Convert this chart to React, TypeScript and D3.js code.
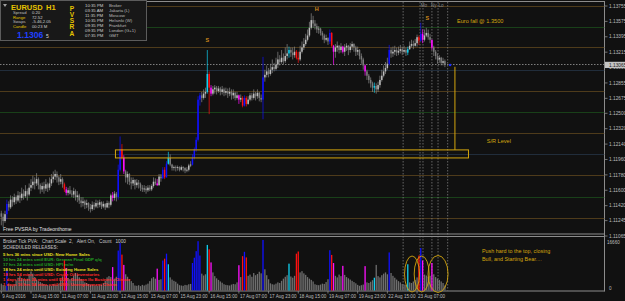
import React from "react";
import * as d3 from "d3";

// ---------- DATA ----------
const firstOpen = 1.1133;
const closes = [
  1.1129, 1.1124, 1.1132, 1.1144, 1.1140, 1.1149, 1.1146, 1.1152, 1.1148, 1.1154,
  1.1151, 1.1156, 1.1153, 1.1159, 1.1155, 1.1163, 1.1166, 1.1170, 1.1168, 1.1173,
  1.1166, 1.1161, 1.1165, 1.1162, 1.1167, 1.1163, 1.1168, 1.1173, 1.1176, 1.1179,
  1.1175, 1.1170, 1.1173, 1.1167, 1.1161, 1.1157, 1.1160, 1.1156, 1.1155, 1.1159,
  1.1152, 1.1154, 1.1148, 1.1145, 1.1147, 1.1143, 1.1145, 1.1140, 1.1138, 1.1143,
  1.1141, 1.1145, 1.1143, 1.1146, 1.1141, 1.1144, 1.1140, 1.1145, 1.1143, 1.1154,
  1.1151, 1.1156, 1.1152, 1.1184, 1.1208, 1.1198, 1.1182, 1.1175, 1.1179, 1.1170,
  1.1168, 1.1172, 1.1166, 1.1169, 1.1167, 1.1163, 1.1161, 1.1162, 1.1160, 1.1163,
  1.1161, 1.1165, 1.1170, 1.1168, 1.1166, 1.1176, 1.1174, 1.1184, 1.1175, 1.1191,
  1.1198, 1.1190, 1.1186, 1.1187, 1.1186, 1.1187, 1.1184, 1.1187, 1.1186, 1.1183,
  1.1184, 1.1189, 1.1190, 1.1198, 1.1208, 1.1219, 1.1266, 1.1271, 1.1268, 1.1273,
  1.1275, 1.1296, 1.1280, 1.1273, 1.1278, 1.1280, 1.1276, 1.1279, 1.1275, 1.1278,
  1.1274, 1.1276, 1.1273, 1.1275, 1.1271, 1.1274, 1.1268, 1.1271, 1.1266, 1.1268,
  1.1259, 1.1268, 1.1261, 1.1266, 1.1271, 1.1268, 1.1273, 1.1270, 1.1274, 1.1268,
  1.1266, 1.1292, 1.1295, 1.1299, 1.1296, 1.1301, 1.1304, 1.1302, 1.1307, 1.1313,
  1.1310, 1.1315, 1.1311, 1.1317, 1.1320, 1.1324, 1.1321, 1.1318, 1.1322, 1.1315,
  1.1313, 1.1322, 1.1327, 1.1331, 1.1336, 1.1341, 1.1350, 1.1359, 1.1355, 1.1352,
  1.1348, 1.1349, 1.1344, 1.1341, 1.1336, 1.1338, 1.1334, 1.1344, 1.1329, 1.1322,
  1.1327, 1.1329, 1.1324, 1.1328, 1.1322, 1.1327, 1.1329, 1.1324, 1.1328, 1.1331,
  1.1327, 1.1322, 1.1324, 1.1317, 1.1313, 1.1306, 1.1299, 1.1294, 1.1289, 1.1285,
  1.1280, 1.1282, 1.1278, 1.1283, 1.1289, 1.1294, 1.1299, 1.1303, 1.1308, 1.1324,
  1.1320, 1.1322, 1.1324, 1.1321, 1.1323, 1.1325, 1.1322, 1.1324, 1.1321, 1.1325,
  1.1329, 1.1331, 1.1329, 1.1332, 1.1339, 1.1335, 1.1343, 1.1336, 1.1341, 1.1344,
  1.1339, 1.1336, 1.1327, 1.1322, 1.1317, 1.1313, 1.1315, 1.1309, 1.1311, 1.13065,
];
const highs = [
  1.1136, 1.1133, 1.1136, 1.1149, 1.1147, 1.1154, 1.1153, 1.1156, 1.1154, 1.1159,
  1.1158, 1.1163, 1.1161, 1.1166, 1.1162, 1.1168, 1.1173, 1.1177, 1.1175, 1.1180,
  1.1175, 1.1168, 1.1169, 1.1170, 1.1173, 1.1169, 1.1175, 1.1179, 1.1182, 1.1184,
  1.1182, 1.1177, 1.1179, 1.1175, 1.1169, 1.1164, 1.1163, 1.1165, 1.1160, 1.1163,
  1.1161, 1.1159, 1.1156, 1.1152, 1.1152, 1.1149, 1.1149, 1.1146, 1.1144, 1.1147,
  1.1146, 1.1149, 1.1148, 1.1149, 1.1147, 1.1147, 1.1145, 1.1148, 1.1147, 1.1156,
  1.1158, 1.1159, 1.1158, 1.1190, 1.1223, 1.1214, 1.1201, 1.1184, 1.1182, 1.1180,
  1.1175, 1.1175, 1.1173, 1.1173, 1.1172, 1.1169, 1.1166, 1.1166, 1.1165, 1.1166,
  1.1166, 1.1167, 1.1175, 1.1174, 1.1173, 1.1179, 1.1179, 1.1187, 1.1187, 1.1194,
  1.1205, 1.1202, 1.1191, 1.1189, 1.1189, 1.1189, 1.1188, 1.1189, 1.1188, 1.1187,
  1.1187, 1.1191, 1.1194, 1.1202, 1.1210, 1.1222, 1.1270, 1.1274, 1.1275, 1.1278,
  1.1280, 1.1324, 1.1299, 1.1283, 1.1282, 1.1283, 1.1282, 1.1282, 1.1281, 1.1282,
  1.1280, 1.1280, 1.1279, 1.1280, 1.1278, 1.1278, 1.1275, 1.1275, 1.1272, 1.1272,
  1.1270, 1.1271, 1.1270, 1.1270, 1.1274, 1.1274, 1.1278, 1.1275, 1.1278, 1.1275,
  1.1272, 1.1316, 1.1301, 1.1306, 1.1303, 1.1308, 1.1313, 1.1309, 1.1315, 1.1322,
  1.1318, 1.1324, 1.1320, 1.1327, 1.1331, 1.1328, 1.1327, 1.1327, 1.1328, 1.1324,
  1.1322, 1.1329, 1.1334, 1.1338, 1.1343, 1.1348, 1.1357, 1.1367, 1.1364, 1.1359,
  1.1355, 1.1352, 1.1350, 1.1346, 1.1343, 1.1342, 1.1339, 1.1348, 1.1345, 1.1330,
  1.1331, 1.1334, 1.1330, 1.1332, 1.1329, 1.1331, 1.1332, 1.1330, 1.1332, 1.1334,
  1.1332, 1.1329, 1.1328, 1.1325, 1.1320, 1.1315, 1.1307, 1.1301, 1.1296, 1.1292,
  1.1287, 1.1286, 1.1285, 1.1287, 1.1294, 1.1301, 1.1306, 1.1310, 1.1315, 1.1330,
  1.1327, 1.1328, 1.1329, 1.1327, 1.1328, 1.1330, 1.1328, 1.1329, 1.1327, 1.1328,
  1.1334, 1.1336, 1.1335, 1.1337, 1.1342, 1.1341, 1.1356, 1.1348, 1.1348, 1.1350,
  1.1348, 1.1343, 1.1336, 1.1329, 1.1324, 1.1320, 1.1318, 1.1316, 1.1315, 1.1313,
];
const lows = [
  1.1119, 1.1117, 1.1122, 1.1126, 1.1136, 1.1138, 1.1141, 1.1143, 1.1144, 1.1146,
  1.1145, 1.1148, 1.1149, 1.1151, 1.1148, 1.1153, 1.1159, 1.1162, 1.1161, 1.1165,
  1.1161, 1.1156, 1.1158, 1.1156, 1.1159, 1.1158, 1.1160, 1.1165, 1.1169, 1.1172,
  1.1169, 1.1166, 1.1167, 1.1163, 1.1158, 1.1154, 1.1154, 1.1155, 1.1152, 1.1151,
  1.1148, 1.1146, 1.1144, 1.1140, 1.1141, 1.1138, 1.1139, 1.1136, 1.1134, 1.1136,
  1.1137, 1.1139, 1.1139, 1.1140, 1.1138, 1.1139, 1.1137, 1.1139, 1.1139, 1.1141,
  1.1147, 1.1148, 1.1147, 1.1149, 1.1182, 1.1196, 1.1179, 1.1169, 1.1167, 1.1166,
  1.1161, 1.1165, 1.1161, 1.1163, 1.1162, 1.1159, 1.1158, 1.1158, 1.1156, 1.1158,
  1.1159, 1.1159, 1.1163, 1.1166, 1.1165, 1.1165, 1.1170, 1.1173, 1.1173, 1.1175,
  1.1190, 1.1188, 1.1183, 1.1183, 1.1182, 1.1183, 1.1182, 1.1183, 1.1182, 1.1180,
  1.1181, 1.1182, 1.1187, 1.1189, 1.1196, 1.1205, 1.1217, 1.1259, 1.1263, 1.1266,
  1.1268, 1.1273, 1.1249, 1.1270, 1.1271, 1.1273, 1.1272, 1.1274, 1.1271, 1.1272,
  1.1270, 1.1271, 1.1268, 1.1270, 1.1266, 1.1267, 1.1265, 1.1266, 1.1261, 1.1263,
  1.1257, 1.1258, 1.1258, 1.1260, 1.1264, 1.1265, 1.1266, 1.1265, 1.1267, 1.1264,
  1.1263, 1.1243, 1.1287, 1.1292, 1.1292, 1.1294, 1.1297, 1.1299, 1.1300, 1.1303,
  1.1306, 1.1308, 1.1307, 1.1309, 1.1313, 1.1315, 1.1316, 1.1313, 1.1315, 1.1313,
  1.1309, 1.1311, 1.1320, 1.1324, 1.1329, 1.1334, 1.1339, 1.1348, 1.1350, 1.1348,
  1.1344, 1.1343, 1.1341, 1.1336, 1.1332, 1.1334, 1.1330, 1.1331, 1.1327, 1.1307,
  1.1315, 1.1322, 1.1320, 1.1321, 1.1320, 1.1317, 1.1323, 1.1318, 1.1321, 1.1324,
  1.1322, 1.1317, 1.1318, 1.1313, 1.1308, 1.1301, 1.1294, 1.1289, 1.1285, 1.1280,
  1.1275, 1.1274, 1.1273, 1.1275, 1.1280, 1.1287, 1.1292, 1.1296, 1.1301, 1.1306,
  1.1315, 1.1316, 1.1318, 1.1317, 1.1318, 1.1320, 1.1318, 1.1320, 1.1317, 1.1318,
  1.1324, 1.1327, 1.1325, 1.1328, 1.1328, 1.1330, 1.1334, 1.1332, 1.1334, 1.1339,
  1.1336, 1.1332, 1.1324, 1.1317, 1.1313, 1.1308, 1.1309, 1.1306, 1.1306, 1.1304,
];
const volumes = [
  2200,
  1800, 1500, 6500, 2100, 1700, 1600, 2000, 3200, 4100, 4600, 3900, 3700, 3400, 3800, 5200, 6100, 5400, 4300, 3500, 3000, 2700, 2300, 2000, 1800,
  1700, 1600, 1500, 2000, 1900, 1800, 2200, 3300, 4500, 9800, 7200, 4000, 3600, 3900, 4800, 5600, 5100, 4200, 3700, 3100, 2600, 2400, 2100, 1900,
  1800, 1600, 1700, 1500, 1900, 1800, 2400, 3100, 4200, 4600, 4300, 7500, 3800, 4400, 12800, 15200, 11500, 8200, 5200, 4400, 3600, 3000, 2400, 1600,
  1500, 1700, 1400, 1800, 1600, 1900, 2200, 3000, 3900, 4300, 3800, 7000, 3400, 3600, 9600, 10200, 11800, 8400, 4200, 3500, 3100, 2800, 2200, 1700,
  1600, 1500, 1800, 1700, 2000, 2100, 8800, 10500, 12600, 15800, 11200, 5400, 4800, 5200, 14600, 13200, 9000, 5800, 4600, 3900, 3400, 2900, 2500, 2000,
  1800, 1700, 1600, 1900, 2100, 2000, 2600, 8100, 4300, 11000, 12400, 10600, 4700, 5100, 4400, 5600, 4900, 5300, 6000, 5500, 16200, 6800, 4900, 3600,
  2300, 2000, 1900, 2200, 2600, 2400, 3100, 3800, 4400, 4900, 8600, 4500, 4100, 4700, 11800, 12500, 5800, 6200, 5500, 5000, 4300, 3800, 3400, 2900,
  2000, 1800, 1700, 1900, 2200, 2100, 2700, 3600, 12900, 11400, 8800, 4700, 4200, 5100, 4600, 7900, 5000, 4300, 3900, 3500, 3100, 2700, 2300, 1800,
  1500, 1700, 1900, 7800, 2600, 2400, 2800, 3300, 4100, 8200, 4600, 4200, 4900, 5400, 5800, 5200, 12200, 5600, 4700, 4100, 3500, 3000, 2600, 2100,
  1900, 1800, 8400, 2600, 2400, 2900, 3400, 4200, 11200, 13600, 9600, 5100, 4800, 4400, 4700, 8800, 5200, 4300, 3800, 3400, 2900, 2400, 1600,
];
const blueBars = [3, 63, 64, 87, 89, 103, 104, 105, 106, 107, 131, 141, 177, 209, 226];
const redBars = [34, 65, 88, 112, 130, 132, 159, 160, 178, 225];
const magentaBars = [35, 60, 66, 84, 113, 128, 179, 184, 196, 227, 232];
const cyanBars = [90, 111, 155, 201, 219];

const priceTicks = [1.13755, 1.13575, 1.13395, 1.13215, 1.13035, 1.12855, 1.12675, 1.125, 1.1232, 1.1214, 1.1196, 1.1178, 1.116, 1.1142, 1.11245, 1.11065];
const priceTickLabels = ["1.13755", "1.13575", "1.13395", "1.13215", "1.13035", "1.12855", "1.12675", "1.12500", "1.12320", "1.12140", "1.11960", "1.11780", "1.11600", "1.11420", "1.11245", "1.11065"];
const timeLabels = ["9 Aug 2016", "10 Aug 15:00", "11 Aug 07:00", "11 Aug 23:00", "12 Aug 15:00", "15 Aug 07:00", "15 Aug 23:00", "16 Aug 15:00", "17 Aug 07:00", "17 Aug 23:00", "18 Aug 15:00", "19 Aug 07:00", "19 Aug 23:00", "22 Aug 15:00", "23 Aug 07:00"];
const timeLabelBars = [0, 16, 32, 48, 64, 80, 96, 112, 128, 144, 160, 176, 192, 208, 224];

const levelPrices = [1.13755, 1.1351, 1.1327, 1.1301, 1.12765, 1.1251, 1.12264, 1.1202, 1.11775, 1.11518, 1.11274];
const levelKinds = ["o", "g", "o", "b", "o", "g", "o", "b", "o", "g", "o"];
const dottedPrice = 1.1308;
const sessionBars = [216.5, 225.6, 227.2, 232, 235.3, 240.5];
const sessionNames = ["Mo", "Ny", "Lo"];
const sessionNameBars = [226, 231.5, 235.5];

const lastPrice = 1.13065;
const volumeMax = 16660;
const srBox = { startBar: 61.5, endBar: 251.7, top: 1.12072, bottom: 1.11978 };
const arrowLine = { bar: 244.4, from: 1.13044, to: 1.12072 };
const swingLabels = [
  { t: "S", bar: 111, price: 1.1333 },
  { t: "H", bar: 170, price: 1.1370 },
  { t: "S", bar: 229.5, price: 1.1359 },
];

const brokerTimes = ["10:35 PM", "03:35 AM", "11:35 PM", "10:35 PM", "09:35 PM", "09:35 PM", "07:35 PM"];
const brokerCities = ["Broker", "Jakarta  (L)", "Moscow", "Helsinki  (W)", "Frankfurt", "London  (G+1)", "GMT"];
const infoLabels = ["Spread", "Range", "Swaps", "Candle"];
const infoValues = ["0.20", "72.52", "-5.46,2.05", "00:23 M"];
const releases = [
  "5 hrs 36 mins since USD: New Home Sales",
  "10 hrs 24 mins until EUR: German Final GDP q/q",
  "17 hrs 24 mins until USD: HPI m/m",
  "18 hrs 24 mins until USD: Existing Home Sales",
  "18 hrs 54 mins until USD: Crude Oil Inventories",
  "1 days 12 hrs 24 mins until EUR: German Ifo Business Climate",
  "1 days 16 hrs 54 mins until USD: Unemployment Claims",
];
const releaseKinds = ["y", "g", "g", "y", "r", "r", "r"];

// ---------- STYLE ----------
const FONT = "'Liberation Sans', Arial, sans-serif";
const BG = "#111111";
const PALETTE: Record<string, string> = { b: "#1010ff", r: "#ff1010", m: "#ff10ff", c: "#10d0f0" };
const LEVEL_COLORS: Record<string, string> = { o: "#4e3b1b", g: "#194019", b: "#212d3b" };
const REL_COLORS: Record<string, string> = { y: "#e8e020", g: "#23a023", r: "#ff2a2a" };
const GOLD = "#d4a60e";

function barKind(i: number): string {
  if (blueBars.includes(i)) return "b";
  if (redBars.includes(i)) return "r";
  if (magentaBars.includes(i)) return "m";
  if (cyanBars.includes(i)) return "c";
  return "n";
}

export default function App() {
  const N = closes.length;
  const x = d3.scaleLinear().domain([0, 239]).range([1.3, 444.9]);
  const y = d3.scaleLinear().domain([1.11065, 1.13755]).range([236, 6]);
  const yv = d3.scaleLinear().domain([0, volumeMax]).range([290.5, 238.5]);
  const axisX = 604.5;

  const candles = d3.range(N).map((i) => {
    const o = i === 0 ? firstOpen : closes[i - 1];
    const c = closes[i];
    const hi = Math.max(highs[i], o, c);
    const lo = Math.min(lows[i], o, c);
    const k = barKind(i);
    const col = k === "n" ? (c >= o ? "#bdbdbd" : "#7c7c7c") : PALETTE[k];
    const wick = k === "n" ? "#8a8a8a" : col;
    return { i, o, c, hi, lo, col, wick };
  });

  return (
    <div style={{ position: "absolute", left: 0, top: 0 }}>
      <svg width={625} height={301} style={{ display: "block", fontFamily: FONT }}>
        <defs>
          <clipPath id="mainClip">
            <rect x={0} y={2} width={axisX} height={231} />
          </clipPath>
          <clipPath id="volClip">
            <rect x={0} y={237} width={axisX} height={54} />
          </clipPath>
        </defs>
        <rect x={0} y={0} width={625} height={301} fill={BG} />

        {/* frame */}
        <line x1={0} x2={axisX} y1={1.5} y2={1.5} stroke="#8c8c8c" strokeWidth={1} />
        <line x1={0} x2={axisX} y1={234} y2={234} stroke="#8c8c8c" strokeWidth={1} />
        <line x1={0} x2={axisX} y1={236.5} y2={236.5} stroke="#8c8c8c" strokeWidth={1} />
        <line x1={0} x2={axisX} y1={291} y2={291} stroke="#8c8c8c" strokeWidth={1} />
        <line x1={axisX} x2={axisX} y1={1} y2={291.5} stroke="#8c8c8c" strokeWidth={1} />

        <g clipPath="url(#mainClip)">
          {levelPrices.map((p, k) => (
            <line key={"lv" + k} x1={0} x2={axisX} y1={Math.round(y(p)) + 0.5} y2={Math.round(y(p)) + 0.5}
              stroke={LEVEL_COLORS[levelKinds[k]]} strokeWidth={1} />
          ))}
          <line x1={0} x2={axisX} y1={Math.round(y(dottedPrice)) + 0.5} y2={Math.round(y(dottedPrice)) + 0.5}
            stroke="#9a9a9a" strokeWidth={0.8} strokeDasharray="1.5,1.5" />
        </g>

        {/* session lines */}
        {sessionBars.map((b, k) => (
          <line key={"ss" + k} x1={x(b)} x2={x(b)} y1={2} y2={290.5} stroke="#8a8a8a" strokeWidth={0.7} strokeDasharray="1.5,1.5" />
        ))}
        {sessionNames.map((s, k) => (
          <text key={"sn" + k} x={x(sessionNameBars[k])} y={7} fontSize={4.6} fill="#8a8a8a">{s}</text>
        ))}

        {/* candles */}
        <g clipPath="url(#mainClip)">
          {candles.map((d) => {
            const cx = x(d.i);
            const yTop = y(Math.max(d.o, d.c));
            const yBot = y(Math.min(d.o, d.c));
            return (
              <g key={"c" + d.i}>
                <line x1={cx} x2={cx} y1={y(d.hi)} y2={y(d.lo)} stroke={d.wick} strokeWidth={0.7} />
                <rect x={cx - 0.75} y={yTop} width={1.5} height={Math.max(0.8, yBot - yTop)} fill={d.col} />
              </g>
            );
          })}
        </g>

        {/* S/R box and line */}
        <rect x={x(srBox.startBar)} y={y(srBox.top)} width={x(srBox.endBar) - x(srBox.startBar)}
          height={y(srBox.bottom) - y(srBox.top)} fill="none" stroke={GOLD} strokeWidth={1} />
        <line x1={x(arrowLine.bar)} x2={x(arrowLine.bar)} y1={y(arrowLine.from)} y2={y(arrowLine.to)} stroke={GOLD} strokeWidth={1} />
        <circle cx={x(241.8)} cy={y(lastPrice)} r={1.2} fill="#1a2cff" />

        {swingLabels.map((s, k) => (
          <text key={"sw" + k} x={x(s.bar)} y={y(s.price)} fontSize={5.5} fontWeight="bold" fill="#d08a1c" textAnchor="middle">{s.t}</text>
        ))}
        <text x={x(245.5)} y={y(1.1356)} fontSize={5.6} fill={GOLD}>Euro fall @ 1.3500</text>
        <text x={x(261.5)} y={y(1.1215)} fontSize={5.6} fill={GOLD}>S/R Level</text>

        {/* price axis */}
        {priceTicks.map((p, k) => (
          <g key={"pt" + k}>
            <line x1={axisX} x2={axisX + 3} y1={y(p)} y2={y(p)} stroke="#8c8c8c" strokeWidth={0.8} />
            <text x={609} y={y(p) + 1.7} fontSize={4.8} fill="#bdbdbd">{priceTickLabels[k]}</text>
          </g>
        ))}
        <rect x={605} y={y(lastPrice) - 3.2} width={20} height={6.2} fill="#c4c4c4" />
        <text x={609} y={y(lastPrice) + 1.7} fontSize={4.8} fill="#1a1a1a">{lastPrice.toFixed(5)}</text>

        {/* info panel */}
        <rect x={0.5} y={0.5} width={146} height={40} fill="#181818" stroke="#5c5c5c" strokeWidth={1} />
        <polygon points="3,4 7,4 5,7" fill="#a0a0a0" />
        <text x={11} y={9.5} fontSize={7.5} fontWeight="bold" fill="#e6c300">EURUSD</text>
        <text x={46} y={9.5} fontSize={7.5} fontWeight="bold" fill="#e6c300">H1</text>
        {infoLabels.map((l, k) => (
          <g key={"il" + k}>
            <text x={13} y={14 + k * 4.6} fontSize={4.2} fill={k % 2 === 1 ? "#e6c300" : "#bdbdbd"}>{l}</text>
            <text x={32} y={14 + k * 4.6} fontSize={4.2} fill="#cfcfcf">{infoValues[k]}</text>
          </g>
        ))}
        <text x={17} y={37.5} fontSize={8.6} fontWeight="bold" fill="#2040ff">1.1306</text>
        <text x={46} y={37.5} fontSize={5} fill="#dddddd">5</text>
        {["P", "V", "S", "R", "A"].map((l, k) => (
          <text key={"pv" + k} x={72} y={10.5 + k * 6.3} fontSize={6.6} fontWeight="bold" fill="#e6c300" textAnchor="middle">{l}</text>
        ))}
        {brokerTimes.map((t, k) => (
          <g key={"bt" + k}>
            <text x={85} y={6.8 + k * 5} fontSize={4.3} fill="#cfcfcf">{t}</text>
            <text x={109} y={6.8 + k * 5} fontSize={4.3} fill="#bdbdbd">{brokerCities[k]}</text>
          </g>
        ))}

        {/* volume panel */}
        <g clipPath="url(#volClip)">
          {volumes.map((v, i) => {
            const k = barKind(i);
            const col = k === "n" ? "#6e6e6e" : PALETTE[k];
            return <rect key={"v" + i} x={x(i) - 0.65} y={yv(v)} width={1.3} height={yv(0) - yv(v)} fill={col} />;
          })}
        </g>
        <text x={607} y={243.5} fontSize={4.6} fill="#bdbdbd">{String(volumeMax)}</text>
        <text x={609} y={289.5} fontSize={4.6} fill="#bdbdbd">0</text>

        <ellipse cx={x(221.3)} cy={274} rx={7.5} ry={18} fill="none" stroke={GOLD} strokeWidth={0.9} />
        <ellipse cx={x(226.5)} cy={274} rx={7.5} ry={18} fill="none" stroke={GOLD} strokeWidth={0.9} />
        <ellipse cx={x(235.3)} cy={274} rx={10} ry={18.5} fill="none" stroke={GOLD} strokeWidth={0.9} />
        <text x={482} y={253} fontSize={5.4} fill={GOLD}>Push hard to the top, closing</text>
        <text x={482} y={261} fontSize={5.4} fill={GOLD}>Bull, and Starting Bear....</text>

        <text x={3} y={231} fontSize={5} fill="#e0e0e0">Free PVSRA by Tradeonthome</text>
        <text x={3} y={243} fontSize={4.7} fill="#c8c8c8" style={{ whiteSpace: "pre" }}>{"Broker Tick PVA:   Chart Scale  2,   Alert On,   Count   1000"}</text>
        <text x={3} y={249} fontSize={4.5} fontWeight="bold" fill="#a8a8a8">SCHEDULED RELEASES:</text>
        {releases.map((r, k) => (
          <text key={"rl" + k} x={3} y={255.5 + k * 5} fontSize={4.3} fontWeight="bold" fill={REL_COLORS[releaseKinds[k]]}>{r}</text>
        ))}

        {/* time axis */}
        {timeLabelBars.map((b, k) => (
          <g key={"tl" + k}>
            <line x1={x(b)} x2={x(b)} y1={291} y2={293.5} stroke="#8c8c8c" strokeWidth={0.8} />
            <text x={x(b) + 1} y={298} fontSize={4.6} fill="#bdbdbd">{timeLabels[k]}</text>
          </g>
        ))}
      </svg>
    </div>
  );
}
